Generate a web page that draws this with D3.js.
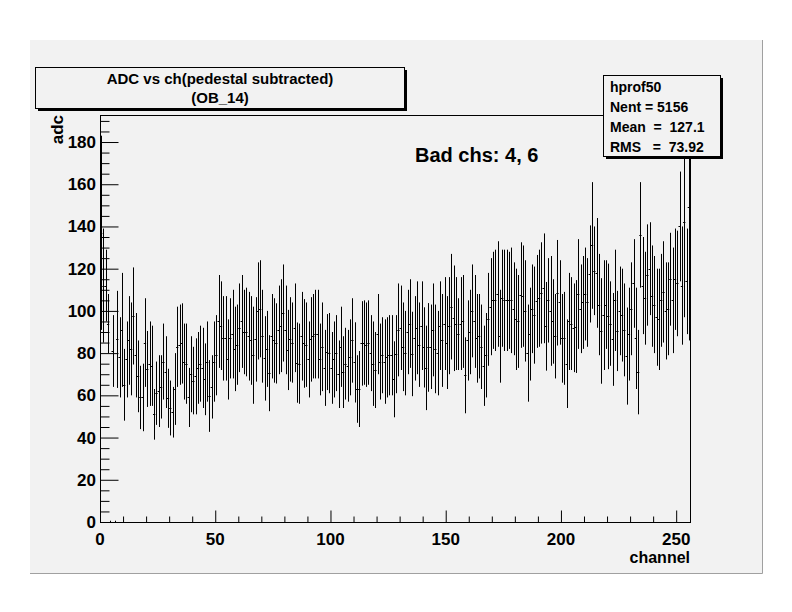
<!DOCTYPE html>
<meta charset="utf-8">
<style>
  body { margin: 0; background: #ffffff; }
  text { font-family: "Liberation Sans", Arial, sans-serif; font-weight: bold; fill: #000; }
</style>
<body>
<div id="chart"></div>
<script src="https://d3js.org/d3.v7.min.js"></script>
<script>

// profile contents: one mean and one error per channel (0..255)
var means = [
  137, 112, 112, 94, 0, 81, 0, 86.5, 78, 91,
  65, 77, 86, 82, 97.6, 79, 69, 59, 59, 85,
  72.5, 75, 74, 51, 61, 62, 64, 76, 71, 58.6,
  54, 52, 63, 83, 84, 84.6, 76, 75, 59, 70,
  67, 69, 73, 75, 73, 67.6, 76, 59.7, 64, 76,
  79, 95, 93, 87, 87, 77, 87, 89, 82, 84,
  92, 95, 90, 90, 88, 86, 79, 86.5, 100, 101,
  88, 77.5, 82, 70.5, 88, 86, 84.6, 91, 93, 99,
  91, 81.5, 86.5, 85, 92, 75.5, 75, 88, 84.6, 84,
  77, 86.5, 88, 89, 89, 77, 83, 73, 80.5, 80,
  73, 77, 80, 70, 83, 71, 75, 74, 78, 86,
  75.6, 63, 63, 84.6, 85, 84, 85, 80, 75, 72,
  89, 76, 79, 76, 78, 79, 79, 67.6, 79.5, 91,
  92, 83, 80, 90, 94, 79.6, 87, 92, 84, 93,
  82.7, 73, 82.7, 83, 91, 82, 80, 93, 86, 94,
  85, 93, 102, 96.5, 94, 89, 94, 95, 69.5, 86,
  90, 100, 95, 87, 88, 83, 74, 79, 96, 102,
  105, 105, 108, 88, 106, 105, 105, 105, 105, 101,
  96, 95, 107.5, 107, 100, 80, 89, 101, 98, 104.5,
  106, 108.5, 110.7, 92.7, 105, 100, 95, 88, 108.6, 104,
  87, 87, 75, 95, 94, 92, 92.6, 108, 101, 104,
  108, 104, 117.5, 131, 119, 118, 103, 90.5, 98, 103,
  97.4, 94, 86.5, 105, 90.5, 100, 98, 91, 78.6, 89,
  101, 113, 87, 71, 136, 112, 106, 117, 120, 107,
  103, 97, 96, 105, 109, 100, 101, 115, 105, 115,
  113, 140, 112, 142, 114, 149
];
var errs = [
  46, 27, 17, 14, 0.6, 17, 0.6, 23, 19, 27,
  17, 18, 21, 22, 23, 20, 17, 15, 16, 21,
  18, 20, 19, 12, 15, 17, 15, 18, 17, 14,
  13, 12, 17, 19, 19, 19, 18, 19, 14, 18,
  16, 18, 17, 18, 19, 17, 19, 17, 15, 19,
  19, 22, 21, 20, 20, 19, 19, 21, 20, 19,
  21, 22, 20, 21, 21, 21, 23, 20, 23, 23,
  22, 20, 18, 18, 20, 20, 19, 21, 22, 23,
  21, 19, 20, 19, 21, 19, 19, 21, 21, 20,
  18, 20, 20, 21, 21, 17, 21, 18, 18, 19,
  17, 18, 18, 16, 19, 17, 17, 17, 18, 20,
  19, 16, 18, 20, 20, 20, 20, 18, 20, 18,
  19, 18, 18, 20, 19, 19, 19, 18, 18.5, 22,
  20, 21, 20, 20, 21, 20, 20, 22, 20, 21,
  19, 20, 21, 20, 22, 21, 20, 21, 22, 22,
  22, 23, 25, 25, 22, 17, 22, 22, 18, 19,
  20, 22, 22, 21, 20, 20, 19, 20, 22, 23,
  23, 24, 25, 22, 23, 24, 24, 23, 25, 22,
  24, 22, 25, 24, 24, 23, 22, 21, 23, 22,
  23, 24, 26, 21, 20, 26, 20, 20, 25, 20,
  21, 22, 21, 23, 22, 21, 22, 26, 21, 22,
  22, 21, 23, 30, 21, 26, 24, 25, 26, 21,
  25, 20, 22, 24, 19, 21, 22, 22, 23, 22,
  22, 21, 24, 20, 25, 23, 22, 24, 22, 24,
  23, 23, 24, 22, 24, 23, 22, 22, 25, 24,
  25, 26, 28, 45, 25, 63
];
var xTicks = [0, 50, 100, 150, 200, 250];
var yTicks = [0, 20, 40, 60, 80, 100, 120, 140, 160, 180];
var titleLines = ["ADC vs ch(pedestal subtracted)", "(OB_14)"];
var statsLines = ["hprof50", "Nent = 5156", "Mean  =  127.1", "RMS   =  73.92"];

var W = 792, H = 612;
var padColor = "#f2f2f2";
var frame = {left: 100, right: 690, top: 115, bottom: 522};

var x = d3.scaleLinear().domain([0, 256]).range([frame.left, frame.right]);
var y = d3.scaleLinear().domain([0, 192.8]).range([frame.bottom, frame.top]);

var svg = d3.select("#chart").append("svg")
    .attr("width", W)
    .attr("height", H);

// pad with 3d border
svg.append("rect").attr("x", 30).attr("y", 40).attr("width", 732).attr("height", 533)
    .attr("fill", padColor);
svg.append("path").attr("d", "M30,573.5H762.5V40")
    .attr("fill", "none").attr("stroke", "#a0a0a0").attr("stroke-width", 1);

svg.append("defs").append("clipPath").attr("id", "clip-frame")
  .append("rect")
    .attr("x", frame.left).attr("y", frame.top)
    .attr("width", frame.right - frame.left)
    .attr("height", frame.bottom - frame.top);

// profile points
var data = means.map(function(m, i) { return {ch: i, mean: m, err: errs[i]}; });
var pts = svg.append("g").attr("clip-path", "url(#clip-frame)")
    .attr("stroke", "#000").attr("stroke-width", 1).attr("fill", "none");

pts.selectAll(".ebar")
    .data(data)
  .enter().append("line")
    .attr("class", "ebar")
    .attr("x1", function(d) { return Math.round(x(d.ch + 0.5)) + 0.5; })
    .attr("x2", function(d) { return Math.round(x(d.ch + 0.5)) + 0.5; })
    .attr("y1", function(d) { return y(d.mean + d.err); })
    .attr("y2", function(d) { return y(d.mean - d.err); });

pts.selectAll(".hbar")
    .data(data)
  .enter().append("line")
    .attr("class", "hbar")
    .attr("x1", function(d) { return x(d.ch); })
    .attr("x2", function(d) { return x(d.ch + 1); })
    .attr("y1", function(d) { return Math.round(y(d.mean)) + 0.5; })
    .attr("y2", function(d) { return Math.round(y(d.mean)) + 0.5; });

// frame
svg.append("rect")
    .attr("x", frame.left + 0.5).attr("y", frame.top + 0.5)
    .attr("width", frame.right - frame.left)
    .attr("height", frame.bottom - frame.top)
    .attr("fill", "none").attr("stroke", "#000");

// y axis ticks (inside the frame)
var yAxis = d3.axisRight(y)
    .tickValues(d3.range(0, 193, 5))
    .tickSize(0).tickFormat("");
var ya = svg.append("g").attr("transform", "translate(" + (frame.left + 0.5) + ",0)").call(yAxis);
ya.select(".domain").remove();
ya.selectAll(".tick line")
    .attr("stroke", "#000")
    .attr("x2", function(d) { return d % 20 === 0 ? 18 : 9; });

svg.append("g").selectAll("text")
    .data(yTicks)
  .enter().append("text")
    .attr("x", 96)
    .attr("y", function(d) { return y(d) + 6; })
    .attr("text-anchor", "end")
    .style("font-size", "17px")
    .text(function(d) { return d; });

// x axis ticks (inside the frame)
var xAxis = d3.axisTop(x)
    .tickValues(d3.range(0, 256, 10))
    .tickSize(0).tickFormat("");
var xa = svg.append("g").attr("transform", "translate(0," + (frame.bottom + 0.5) + ")").call(xAxis);
xa.select(".domain").remove();
xa.selectAll(".tick line")
    .attr("stroke", "#000")
    .attr("y2", function(d) { return d % 50 === 0 ? -12 : -6; });

svg.append("g").selectAll("text")
    .data(xTicks)
  .enter().append("text")
    .attr("x", function(d) { return x(d); })
    .attr("y", 545)
    .attr("text-anchor", "middle")
    .style("font-size", "17px")
    .text(function(d) { return d; });

// axis titles
svg.append("text")
    .attr("x", 690).attr("y", 563)
    .attr("text-anchor", "end")
    .style("font-size", "16px")
    .text("channel");

svg.append("text")
    .attr("transform", "translate(63,115) rotate(-90)")
    .attr("text-anchor", "end")
    .style("font-size", "17px")
    .text("adc");

// boxes with a shadow on the right and bottom
function box(x0, y0, w, h) {
  svg.append("rect").attr("x", x0 + 3).attr("y", y0 + 3).attr("width", w).attr("height", h)
      .attr("fill", "#000");
  svg.append("rect").attr("x", x0 + 0.5).attr("y", y0 + 0.5).attr("width", w).attr("height", h)
      .attr("fill", padColor).attr("stroke", "#000");
}

// title box
box(35, 67, 369, 41);
svg.append("g").selectAll("text")
    .data(titleLines)
  .enter().append("text")
    .attr("x", 220)
    .attr("y", function(d, i) { return 84 + i * 19; })
    .attr("text-anchor", "middle")
    .style("font-size", "15px")
    .text(function(d) { return d; });

// stats box
box(603, 75, 117, 81);
svg.append("g").selectAll("text")
    .data(statsLines)
  .enter().append("text")
    .attr("x", 610)
    .attr("y", function(d, i) { return 92 + i * 20; })
    .style("font-size", "14px")
    .style("white-space", "pre")
    .attr("xml:space", "preserve")
    .text(function(d) { return d; });

// annotation
svg.append("text")
    .attr("x", 415).attr("y", 162)
    .style("font-size", "20px")
    .text("Bad chs: 4, 6");

</script>
</body>
